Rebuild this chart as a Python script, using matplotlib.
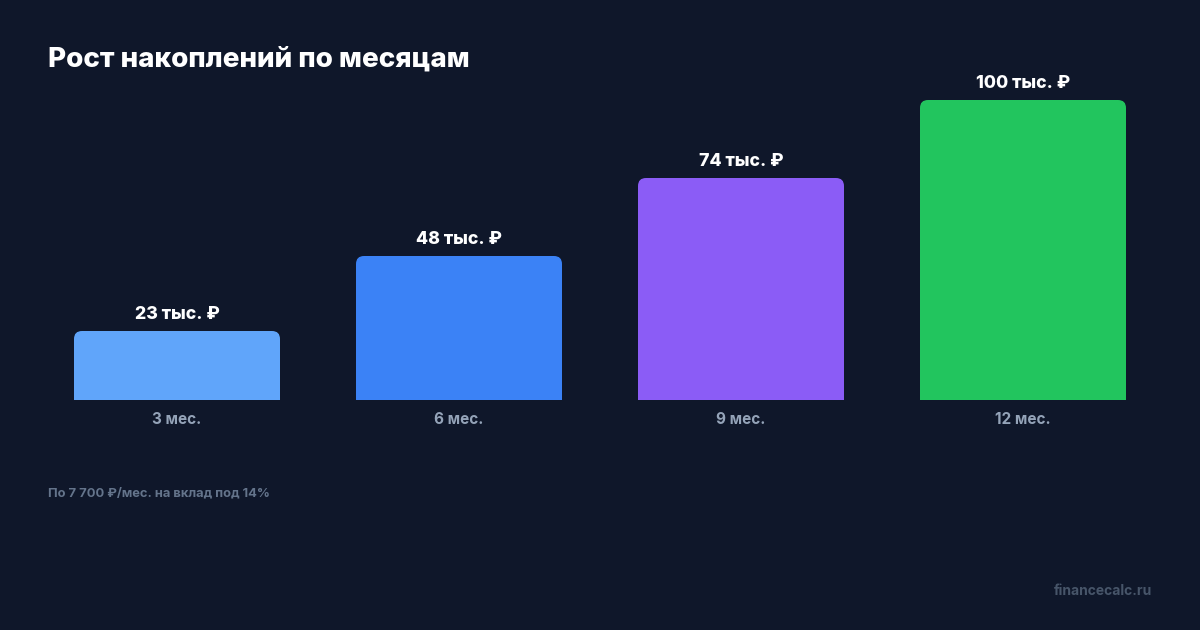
import matplotlib
matplotlib.use('Agg')
import matplotlib.pyplot as plt
from matplotlib.patches import FancyBboxPatch

# данные
months = ['3 мес.', '6 мес.', '9 мес.', '12 мес.']
savings = [23, 48, 74, 100]  # тыс. ₽
value_labels = ['23 тыс. ₽', '48 тыс. ₽', '74 тыс. ₽', '100 тыс. ₽']
colors = ['#60a5fa', '#3b82f6', '#8b5cf6', '#22c55e']

BG = '#0f172a'
FONT = ['Inter', 'DejaVu Sans']
plt.rcParams['font.family'] = FONT

W, H = 1200, 630
fig = plt.figure(figsize=(W / 100, H / 100), dpi=100, facecolor=BG)

# оси: низ на 400px, значение 100 на 100px
ax = fig.add_axes([36 / W, (H - 400) / H, 1128 / W, 300 / H])
ax.set_facecolor(BG)
ax.set_xlim(-0.5, 3.5)
ax.set_ylim(0, 100)
for s in ax.spines.values():
    s.set_visible(False)
ax.set_yticks([])

bw = 206 / 282
px_x = 4 / 1128   # x-единиц на пиксель
px_y = 100 / 300  # y-единиц на пиксель
r = 8 * px_x
for i, (v, c) in enumerate(zip(savings, colors)):
    x0 = i - bw / 2
    # скругленный верх
    ax.add_patch(FancyBboxPatch((x0, 0), bw, v,
                                boxstyle=f'round,pad=0,rounding_size={r}',
                                mutation_aspect=px_y / px_x,
                                fc=c, ec='none', zorder=2))
    # прямые нижние углы
    ax.bar(i, v / 2, width=bw, color=c, zorder=2, linewidth=0)
    ax.annotate(value_labels[i], (i, v), xytext=(0, 12), textcoords='offset pixels',
                ha='center', va='baseline', color='white', fontsize=12.7,
                fontweight='heavy')

ax.set_xticks(range(len(months)), months)
ax.tick_params(axis='x', length=0, pad=9, labelsize=11, labelcolor='#94a3b8')
for t in ax.get_xticklabels():
    t.set_fontweight('bold')

fig.text(48 / W, 1 - 67 / H, 'Рост накоплений по месяцам', color='white',
         fontsize=20, fontweight='heavy', ha='left', va='baseline')
fig.text(48 / W, 1 - 496 / H, 'По 7 700 ₽/мес. на вклад под 14%', color='#64748b',
         fontsize=9.3, fontweight='bold', ha='left', va='baseline')
fig.text(1152 / W, 1 - 595 / H, 'financecalc.ru', color='#475569',
         fontsize=10, fontweight='bold', ha='right', va='baseline')

fig.savefig('out.png', dpi=100, facecolor=BG)
